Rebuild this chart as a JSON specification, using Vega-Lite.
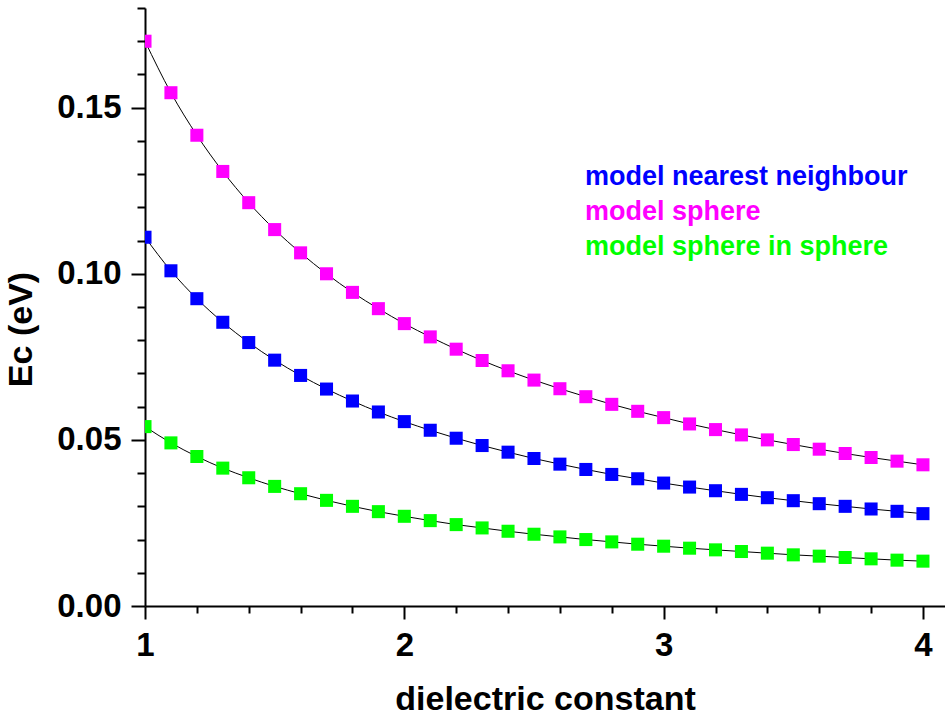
{
  "$schema": "https://vega.github.io/schema/vega-lite/v6.json",
  "width": 800,
  "height": 598,
  "autosize": {"type": "none"},
  "padding": {"left": 145, "top": 8, "right": 0, "bottom": 112},
  "background": "white",
  "config": {
    "view": {"stroke": null},
    "font": "Liberation Sans",
    "axis": {
      "grid": false,
      "domainColor": "black",
      "domainWidth": 2,
      "tickColor": "black",
      "tickWidth": 2,
      "labelFont": "Liberation Sans",
      "labelFontWeight": "bold",
      "labelFontSize": 33,
      "labelColor": "black",
      "titleFont": "Liberation Sans",
      "titleFontWeight": "bold",
      "titleFontSize": 34,
      "titleColor": "black"
    }
  },
  "data": {
    "values": [
      {"e": 1.0, "Ec": 0.1110, "model": "model nearest neighbour"},
      {"e": 1.1, "Ec": 0.1009, "model": "model nearest neighbour"},
      {"e": 1.2, "Ec": 0.0925, "model": "model nearest neighbour"},
      {"e": 1.3, "Ec": 0.0854, "model": "model nearest neighbour"},
      {"e": 1.4, "Ec": 0.0793, "model": "model nearest neighbour"},
      {"e": 1.5, "Ec": 0.0740, "model": "model nearest neighbour"},
      {"e": 1.6, "Ec": 0.0694, "model": "model nearest neighbour"},
      {"e": 1.7, "Ec": 0.0653, "model": "model nearest neighbour"},
      {"e": 1.8, "Ec": 0.0617, "model": "model nearest neighbour"},
      {"e": 1.9, "Ec": 0.0584, "model": "model nearest neighbour"},
      {"e": 2.0, "Ec": 0.0555, "model": "model nearest neighbour"},
      {"e": 2.1, "Ec": 0.0529, "model": "model nearest neighbour"},
      {"e": 2.2, "Ec": 0.0505, "model": "model nearest neighbour"},
      {"e": 2.3, "Ec": 0.0483, "model": "model nearest neighbour"},
      {"e": 2.4, "Ec": 0.0463, "model": "model nearest neighbour"},
      {"e": 2.5, "Ec": 0.0444, "model": "model nearest neighbour"},
      {"e": 2.6, "Ec": 0.0427, "model": "model nearest neighbour"},
      {"e": 2.7, "Ec": 0.0411, "model": "model nearest neighbour"},
      {"e": 2.8, "Ec": 0.0396, "model": "model nearest neighbour"},
      {"e": 2.9, "Ec": 0.0383, "model": "model nearest neighbour"},
      {"e": 3.0, "Ec": 0.0370, "model": "model nearest neighbour"},
      {"e": 3.1, "Ec": 0.0358, "model": "model nearest neighbour"},
      {"e": 3.2, "Ec": 0.0347, "model": "model nearest neighbour"},
      {"e": 3.3, "Ec": 0.0336, "model": "model nearest neighbour"},
      {"e": 3.4, "Ec": 0.0326, "model": "model nearest neighbour"},
      {"e": 3.5, "Ec": 0.0317, "model": "model nearest neighbour"},
      {"e": 3.6, "Ec": 0.0308, "model": "model nearest neighbour"},
      {"e": 3.7, "Ec": 0.0300, "model": "model nearest neighbour"},
      {"e": 3.8, "Ec": 0.0292, "model": "model nearest neighbour"},
      {"e": 3.9, "Ec": 0.0285, "model": "model nearest neighbour"},
      {"e": 4.0, "Ec": 0.0278, "model": "model nearest neighbour"},
      {"e": 1.0, "Ec": 0.1700, "model": "model sphere"},
      {"e": 1.1, "Ec": 0.1545, "model": "model sphere"},
      {"e": 1.2, "Ec": 0.1417, "model": "model sphere"},
      {"e": 1.3, "Ec": 0.1308, "model": "model sphere"},
      {"e": 1.4, "Ec": 0.1214, "model": "model sphere"},
      {"e": 1.5, "Ec": 0.1133, "model": "model sphere"},
      {"e": 1.6, "Ec": 0.1063, "model": "model sphere"},
      {"e": 1.7, "Ec": 0.1000, "model": "model sphere"},
      {"e": 1.8, "Ec": 0.0944, "model": "model sphere"},
      {"e": 1.9, "Ec": 0.0895, "model": "model sphere"},
      {"e": 2.0, "Ec": 0.0850, "model": "model sphere"},
      {"e": 2.1, "Ec": 0.0810, "model": "model sphere"},
      {"e": 2.2, "Ec": 0.0773, "model": "model sphere"},
      {"e": 2.3, "Ec": 0.0739, "model": "model sphere"},
      {"e": 2.4, "Ec": 0.0708, "model": "model sphere"},
      {"e": 2.5, "Ec": 0.0680, "model": "model sphere"},
      {"e": 2.6, "Ec": 0.0654, "model": "model sphere"},
      {"e": 2.7, "Ec": 0.0630, "model": "model sphere"},
      {"e": 2.8, "Ec": 0.0607, "model": "model sphere"},
      {"e": 2.9, "Ec": 0.0586, "model": "model sphere"},
      {"e": 3.0, "Ec": 0.0567, "model": "model sphere"},
      {"e": 3.1, "Ec": 0.0548, "model": "model sphere"},
      {"e": 3.2, "Ec": 0.0531, "model": "model sphere"},
      {"e": 3.3, "Ec": 0.0515, "model": "model sphere"},
      {"e": 3.4, "Ec": 0.0500, "model": "model sphere"},
      {"e": 3.5, "Ec": 0.0486, "model": "model sphere"},
      {"e": 3.6, "Ec": 0.0472, "model": "model sphere"},
      {"e": 3.7, "Ec": 0.0459, "model": "model sphere"},
      {"e": 3.8, "Ec": 0.0447, "model": "model sphere"},
      {"e": 3.9, "Ec": 0.0436, "model": "model sphere"},
      {"e": 4.0, "Ec": 0.0425, "model": "model sphere"},
      {"e": 1.0, "Ec": 0.0540, "model": "model sphere in sphere"},
      {"e": 1.1, "Ec": 0.0491, "model": "model sphere in sphere"},
      {"e": 1.2, "Ec": 0.0450, "model": "model sphere in sphere"},
      {"e": 1.3, "Ec": 0.0415, "model": "model sphere in sphere"},
      {"e": 1.4, "Ec": 0.0386, "model": "model sphere in sphere"},
      {"e": 1.5, "Ec": 0.0360, "model": "model sphere in sphere"},
      {"e": 1.6, "Ec": 0.0338, "model": "model sphere in sphere"},
      {"e": 1.7, "Ec": 0.0318, "model": "model sphere in sphere"},
      {"e": 1.8, "Ec": 0.0300, "model": "model sphere in sphere"},
      {"e": 1.9, "Ec": 0.0284, "model": "model sphere in sphere"},
      {"e": 2.0, "Ec": 0.0270, "model": "model sphere in sphere"},
      {"e": 2.1, "Ec": 0.0257, "model": "model sphere in sphere"},
      {"e": 2.2, "Ec": 0.0245, "model": "model sphere in sphere"},
      {"e": 2.3, "Ec": 0.0235, "model": "model sphere in sphere"},
      {"e": 2.4, "Ec": 0.0225, "model": "model sphere in sphere"},
      {"e": 2.5, "Ec": 0.0216, "model": "model sphere in sphere"},
      {"e": 2.6, "Ec": 0.0208, "model": "model sphere in sphere"},
      {"e": 2.7, "Ec": 0.0200, "model": "model sphere in sphere"},
      {"e": 2.8, "Ec": 0.0193, "model": "model sphere in sphere"},
      {"e": 2.9, "Ec": 0.0186, "model": "model sphere in sphere"},
      {"e": 3.0, "Ec": 0.0180, "model": "model sphere in sphere"},
      {"e": 3.1, "Ec": 0.0174, "model": "model sphere in sphere"},
      {"e": 3.2, "Ec": 0.0169, "model": "model sphere in sphere"},
      {"e": 3.3, "Ec": 0.0164, "model": "model sphere in sphere"},
      {"e": 3.4, "Ec": 0.0159, "model": "model sphere in sphere"},
      {"e": 3.5, "Ec": 0.0154, "model": "model sphere in sphere"},
      {"e": 3.6, "Ec": 0.0150, "model": "model sphere in sphere"},
      {"e": 3.7, "Ec": 0.0146, "model": "model sphere in sphere"},
      {"e": 3.8, "Ec": 0.0142, "model": "model sphere in sphere"},
      {"e": 3.9, "Ec": 0.0138, "model": "model sphere in sphere"},
      {"e": 4.0, "Ec": 0.0135, "model": "model sphere in sphere"}
    ]
  },
  "encoding": {
    "x": {
      "field": "e",
      "type": "quantitative",
      "scale": {"domain": [1, 4.085], "nice": false, "zero": false},
      "axis": {
        "title": "dielectric constant",
        "values": [1, 1.2, 1.4, 1.6, 1.8, 2, 2.2, 2.4, 2.6, 2.8, 3, 3.2, 3.4, 3.6, 3.8, 4],
        "labelExpr": "abs(datum.value - round(datum.value)) < 0.001 ? format(datum.value, 'd') : ''",
        "tickSize": {"condition": {"test": "abs(datum.value - round(datum.value)) < 0.001", "value": 13}, "value": 7},
        "labelPadding": 10,
        "titlePadding": 20,
        "labelFlush": false,
        "labelOverlap": false
      }
    },
    "y": {
      "field": "Ec",
      "type": "quantitative",
      "scale": {"domain": [0, 0.18], "nice": false},
      "axis": {
        "title": "Ec (eV)",
        "values": [0, 0.01, 0.02, 0.03, 0.04, 0.05, 0.06, 0.07, 0.08, 0.09, 0.1, 0.11, 0.12, 0.13, 0.14, 0.15, 0.16, 0.17, 0.18],
        "labelExpr": "abs(datum.value * 20 - round(datum.value * 20)) < 0.001 ? format(datum.value, '.2f') : ''",
        "tickSize": {"condition": {"test": "abs(datum.value * 20 - round(datum.value * 20)) < 0.001", "value": 14}, "value": 8},
        "labelPadding": 10,
        "titlePadding": 18,
        "titleY": 321,
        "labelFlush": false,
        "labelOverlap": false
      }
    }
  },
  "layer": [
    {
      "mark": {"type": "line", "color": "black", "strokeWidth": 1, "interpolate": "monotone", "clip": true},
      "encoding": {"detail": {"field": "model"}}
    },
    {
      "mark": {"type": "point", "shape": "square", "filled": true, "opacity": 1, "size": 170, "clip": true},
      "encoding": {
        "color": {
          "field": "model",
          "type": "nominal",
          "scale": {
            "domain": ["model nearest neighbour", "model sphere", "model sphere in sphere"],
            "range": ["#0000ff", "#ff00ff", "#00ff00"]
          },
          "legend": {
            "title": null,
            "orient": "none",
            "legendX": 413,
            "legendY": 155,
            "symbolSize": 0,
            "symbolStrokeWidth": 0,
            "symbolOpacity": 0,
            "labelOffset": 0,
            "labelFont": "Liberation Sans",
            "labelFontWeight": "bold",
            "labelFontSize": 27,
            "labelLimit": 500,
            "rowPadding": 7,
            "padding": 0,
            "encode": {
              "labels": {"update": {"fill": {"signal": "scale('color', datum.value)"}}}
            }
          }
        }
      }
    }
  ]
}
